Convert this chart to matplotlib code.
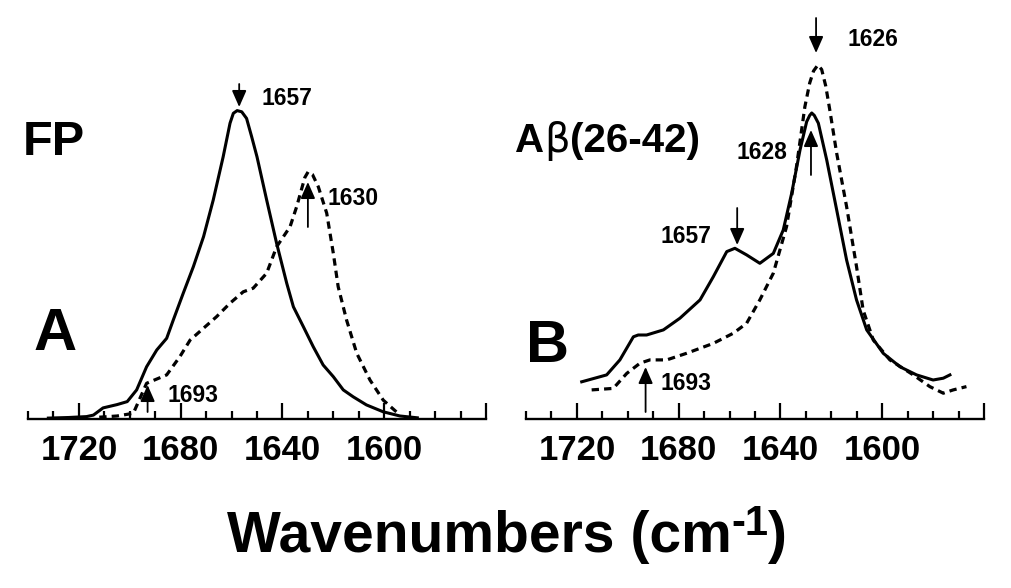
import matplotlib
matplotlib.use('Agg')
import matplotlib.pyplot as plt
from matplotlib.ticker import FixedLocator, MultipleLocator

plt.rcParams['font.family'] = ['Liberation Sans', 'DejaVu Sans']

# ---------------- data ----------------
major_ticks = [1720, 1680, 1640, 1600, 1560]
major_labels = ['1720', '1680', '1640', '1600', '']

wnA_solid = [1732, 1724, 1717, 1714.3, 1710.5, 1705, 1701, 1697.3, 1693.4, 1689.4, 1685.5,
             1682.9, 1679, 1675, 1671, 1667.2, 1663.3, 1660.6, 1659.3, 1657.8, 1656,
             1654.1, 1652.1, 1650, 1646.2,
             1642.3, 1638.3, 1635.7, 1631.8, 1627.9, 1624, 1620, 1616.1, 1612.2, 1607,
             1600.4, 1593.8, 1587]
absA_solid = [0.003, 0.005, 0.008, 0.013, 0.037, 0.048, 0.058, 0.097, 0.174, 0.23, 0.269,
              0.33, 0.419, 0.508, 0.608, 0.73, 0.874, 0.986, 1.019, 1.028, 1.024,
              1.002, 0.941, 0.874, 0.73,
              0.586, 0.452, 0.374, 0.308, 0.241, 0.18, 0.141, 0.097, 0.074, 0.047,
              0.024, 0.01, 0.004]

wnA_dash = [1712, 1705, 1698.6, 1693.4, 1685.5, 1680.3, 1676.3, 1671.1, 1665.9, 1660.6,
            1655.4, 1651.5, 1646.2, 1642.3, 1637, 1634.4, 1631.2, 1629.9, 1628.2, 1625.9,
            1622.6, 1620, 1618.1, 1614.8, 1610.8, 1605.6, 1600.4, 1593.8]
absA_dash = [0.006, 0.01, 0.019, 0.119, 0.147, 0.208, 0.263, 0.302, 0.341, 0.386,
             0.424, 0.436, 0.486, 0.574, 0.641, 0.708, 0.805, 0.824, 0.815, 0.774,
             0.686, 0.552, 0.441, 0.33, 0.219, 0.13, 0.063, 0.013]

wnB_solid = [1718.1, 1708.3, 1703.1, 1697.8, 1695.9, 1692.6, 1686, 1679.5, 1671.6, 1666.4,
             1661.1, 1657.9, 1653.3, 1648.1, 1642.8, 1638.9, 1635.6, 1632.3, 1629.7,
             1628.5, 1627.7, 1626.7, 1625.1, 1621.8, 1617.9, 1614, 1610.1, 1606.1, 1599.6,
             1593, 1586.5, 1580, 1576, 1573.4]
absB_solid = [0.124, 0.147, 0.197, 0.274, 0.28, 0.28, 0.297, 0.336, 0.397, 0.474,
              0.558, 0.569, 0.547, 0.519, 0.552, 0.63, 0.752, 0.897, 0.991,
              1.012, 1.02, 1.012, 0.986, 0.863, 0.697, 0.53, 0.397, 0.297, 0.219,
              0.174, 0.147, 0.13, 0.136, 0.147]

wnB_dash = [1714.2, 1705.7, 1700.4, 1695.2, 1691.3, 1684.7, 1676.9, 1666.4, 1658.5, 1653.3,
            1648.1, 1642.8, 1637.6, 1633.7, 1630.4, 1628.5, 1627, 1625.3, 1623.8, 1622.2,
            1620.6, 1617.9, 1614, 1610.1, 1607.5, 1603.5, 1597, 1587.8, 1581.3, 1576,
            1572.1, 1566.9]
absB_dash = [0.097, 0.102, 0.152, 0.186, 0.197, 0.197, 0.219, 0.252, 0.286, 0.319,
             0.397, 0.486, 0.641, 0.841, 1.041, 1.12, 1.16, 1.18, 1.165, 1.11,
             1.03, 0.886, 0.708, 0.508, 0.363, 0.263, 0.197, 0.147, 0.108, 0.086,
             0.097, 0.108]

# peak annotations: (wavenumber, label, direction)
peaksA = [(1657, '1657', 'down'), (1630, '1630', 'up'), (1693, '1693', 'up')]
peaksB = [(1626, '1626', 'down'), (1628, '1628', 'up'), (1657, '1657', 'down'), (1693, '1693', 'up')]

# ---------------- layout ----------------
W, H = 1011, 588
fig = plt.figure(figsize=(W / 100, H / 100), dpi=100)

AX_Y = 419
SCALE = 300.0


def rect(x0, x1, ytop, ybot):
    return [x0 / W, (H - ybot) / H, (x1 - x0) / W, (ybot - ytop) / H]


def v(ypix):
    return (AX_Y - ypix) / SCALE


axA = fig.add_axes(rect(28, 486, 10, AX_Y))
axB = fig.add_axes(rect(526, 984, 10, AX_Y))

for ax in (axA, axB):
    ax.set_xlim(1740, 1560)
    ax.set_ylim(0, v(10))
    for s in ['left', 'right', 'top']:
        ax.spines[s].set_visible(False)
    ax.spines['bottom'].set_linewidth(1.7)
    ax.set_yticks([])
    ax.xaxis.set_major_locator(FixedLocator(major_ticks))
    ax.set_xticklabels(major_labels)
    ax.xaxis.set_minor_locator(MultipleLocator(10))
    ax.tick_params(axis='x', which='major', direction='in', length=11.5, width=1.6,
                   pad=11, labelsize=25)
    ax.tick_params(axis='x', which='minor', direction='in', length=5.8, width=1.6)
    for lbl in ax.get_xticklabels():
        lbl.set_fontweight('bold')
    ax.patch.set_alpha(0)

dash_style = (0, (2.3, 1.6))
for ax, ws, ys, wd, yd in ((axA, wnA_solid, absA_solid, wnA_dash, absA_dash),
                           (axB, wnB_solid, absB_solid, wnB_dash, absB_dash)):
    ax.plot(ws, ys, color='k', lw=2.2, clip_on=False, solid_joinstyle='round')
    ax.plot(wd, yd, color='k', lw=2.3, ls=dash_style, clip_on=False)


def arrow(ax, x, tip, tail):
    ax.annotate('', xy=(x, tip), xytext=(x, tail), annotation_clip=False,
                arrowprops=dict(arrowstyle='-|>,head_length=0.5,head_width=0.22',
                                lw=1.3, color='k', shrinkA=0, shrinkB=0,
                                mutation_scale=20))


# arrows (tip y, tail y in pixels) and labels (left x in wn, baseline pixel)
arrA = {'1657': (107, 84), '1630': (182, 227), '1693': (385, 412)}
labA = {'1657': (1648.1, 105), '1630': (1622.1, 205), '1693': (1685.0, 402)}
arrB = {'1626': (53, 18), '1628': (130, 175), '1657': (245, 208), '1693': (367, 412)}
labB = {'1626': (1613.5, 46), '1628': (1657.1, 159), '1657': (1687.3, 243), '1693': (1687.3, 390)}

for ax, peaks, arr, lab in ((axA, peaksA, arrA, labA), (axB, peaksB, arrB, labB)):
    for wn, txt, d in peaks:
        tip, tail = arr[txt]
        arrow(ax, wn, v(tip), v(tail))
        lx, lb = lab[txt]
        ax.text(lx, v(lb), txt, fontsize=16.5, fontweight='bold', ha='left',
                va='baseline', clip_on=False)

# ---------------- texts ----------------
fig.canvas.draw()
renderer = fig.canvas.get_renderer()


def chain(parts, x_px, base_px):
    x = x_px
    for s, size, weight, dy, fam in parts:
        t = fig.text(x / W, (H - base_px + dy) / H, s, fontsize=size, fontweight=weight,
                     va='baseline', ha='left', family=fam)
        bb = t.get_window_extent(renderer)
        x = bb.x1
    return x


fig.text(23 / W, (H - 155) / H, 'FP', fontsize=35, fontweight='bold', va='baseline', ha='left')
fig.text(34 / W, (H - 350) / H, 'A', fontsize=43, fontweight='bold', va='baseline', ha='left')
fig.text(526 / W, (H - 362) / H, 'B', fontsize=43, fontweight='bold', va='baseline', ha='left')

chain([('A', 29, 'bold', 0, ['Liberation Sans']),
       ('β', 29, 'normal', 0, ['DejaVu Sans']),
       ('(26-42)', 29, 'bold', 0, ['Liberation Sans'])], 515, 152)

# x-axis title with superscript, centred at x ~ 507
parts = [('Wavenumbers (cm', 41, 'bold', 0, ['Liberation Sans']),
         ('-1', 30, 'bold', 17, ['Liberation Sans']),
         (')', 41, 'bold', 0, ['Liberation Sans'])]
tmp = [fig.text(0, 0, s, fontsize=sz, fontweight=w, family=f) for s, sz, w, dy, f in parts]
total = sum(t.get_window_extent(renderer).width for t in tmp)
for t in tmp:
    t.remove()
chain(parts, 507 - total / 2, 552)

fig.savefig('out.png', dpi=100)
